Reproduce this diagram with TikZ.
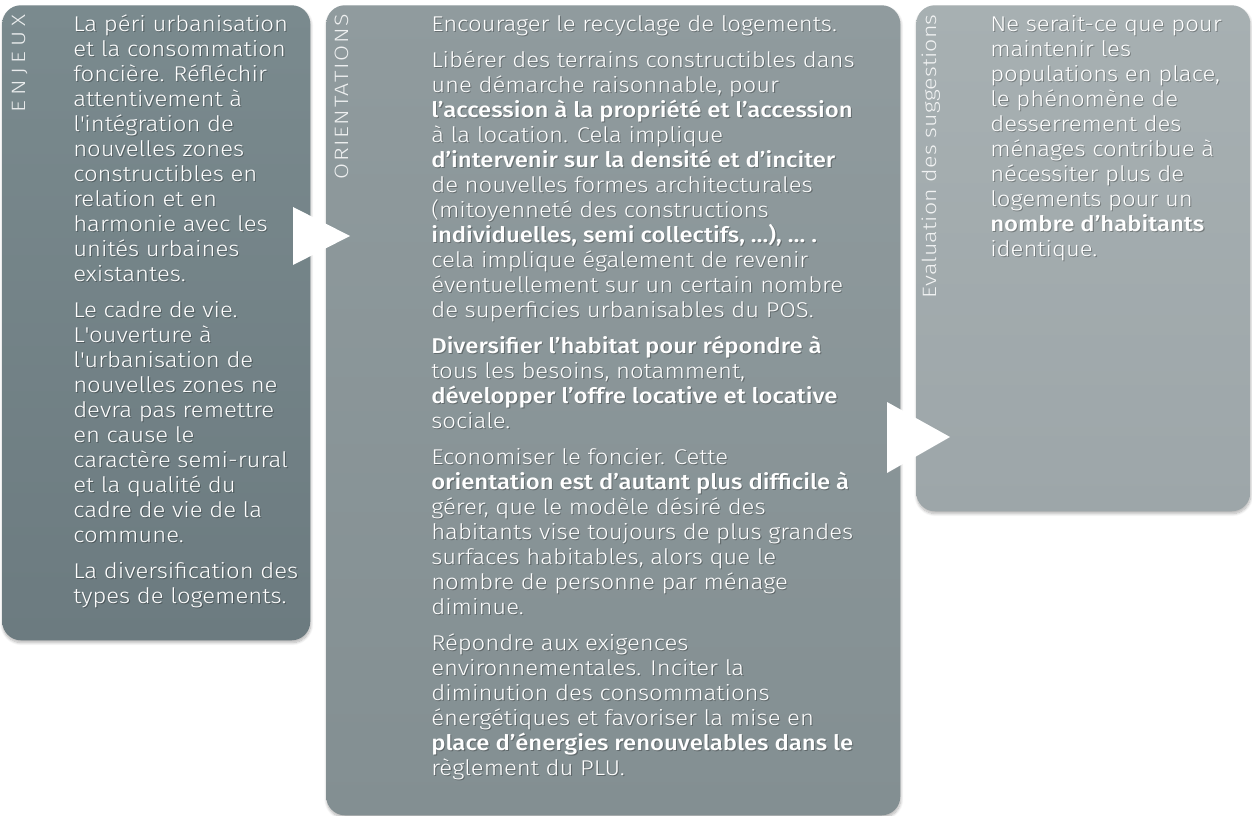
\documentclass[tikz,border=0pt]{standalone}
\usepackage{fontspec}
\setmainfont{Fira Sans Light}[BoldFont={Fira Sans Medium}, FakeStretch=1.12]
\newfontfamily\sidefont{Fira Sans Light}[FakeStretch=1.2]
\usetikzlibrary{shadows.blur}

\definecolor{enjeuxtop}{HTML}{7A8A8E}
\definecolor{enjeuxbot}{HTML}{6C7B80}
\definecolor{orienttop}{HTML}{909B9E}
\definecolor{orientbot}{HTML}{838F92}
\definecolor{evalutop}{HTML}{A7B0B2}
\definecolor{evalubot}{HTML}{9DA6A9}

\newcommand\sq{\textquotesingle}
% white text over a faint dark copy
\newcommand\boxtext[3]{%
  \node[bodytext, text=black, text opacity=0.28, xshift=0.8pt, yshift=-1.1pt] at (#2) {#3};
  \node[bodytext] (#1) at (#2) {#3};
}

\begin{document}
\begin{tikzpicture}
[x=0.75pt, y=-0.75pt,
  cardbox/.style={anchor=north west, inner sep=0pt, rounded corners=14pt,
    blur shadow={shadow xshift=0.4pt, shadow yshift=-1.8pt,
      shadow blur steps=8, shadow opacity=30}},
  sidelabel/.style={rotate=90, anchor=base east, inner sep=0pt,
    text=white, text opacity=0.85, font=\sidefont\fontsize{14.5}{16}\selectfont},
  bodytext/.style={anchor=north west, inner sep=0pt, align=left,
    text=white, font=\fontsize{16}{18.75}\selectfont},
  chevron/.style={fill=white}]
\useasboundingbox (0,0) rectangle (1252,816);
%% panels
\node (enjeux) at (2,5) [cardbox, minimum width=231pt, minimum height=476.25pt,
  top color=enjeuxtop, bottom color=enjeuxbot] {};
\node (orient) at (326,5) [cardbox, minimum width=430.5pt, minimum height=607.5pt,
  top color=orienttop, bottom color=orientbot] {};
\node (evalu) at (916,5) [cardbox, minimum width=250.5pt, minimum height=379.5pt,
  top color=evalutop, bottom color=evalubot] {};
%% side titles
\foreach \panel/\x/\spread/\title in {enjeux/25/26/ENJEUX, orient/348/8/ORIENTATIONS,
  evalu/936/1/Evaluation des suggestions} {
  \node (\panel title) at (\x,14) [sidelabel]
    {\addfontfeature{LetterSpace=\spread}\title};
}
%% chevrons between panels
\foreach \xa/\ya/\yb/\xb/\yc in {293/207/265/350/236, 887/402/473/950/437} {
  \fill[chevron] (\xa,\ya) -- (\xa,\yb) -- (\xb,\yc) -- cycle;
}
%% texts
\boxtext{enjeux text}{73,13.5}{\strut La péri urbanisation\\
  et la consommation\\
  foncière. Réfléchir\\
  attentivement à\\
  l\sq intégration de\\
  nouvelles zones\\
  constructibles en\\
  relation et en\\
  harmonie avec les\\
  unités urbaines\\
  existantes.\\[8.25pt]
  Le cadre de vie.\\
  L\sq ouverture à\\
  l\sq urbanisation de\\
  nouvelles zones ne\\
  devra pas remettre\\
  en cause le\\
  caractère semi-rural\\
  et la qualité du\\
  cadre de vie de la\\
  commune.\\[8.25pt]
  La diversification des\\
  types de logements.}
\boxtext{orient text}{431,13.5}{\strut Encourager le recyclage de logements.\\[8.25pt]
  Libérer des terrains constructibles dans\\
  une démarche raisonnable, pour\\
  \textbf{l’accession à la propriété et l’accession}\\
  à la location. Cela implique\\
  \textbf{d’intervenir sur la densité et d’inciter}\\
  de nouvelles formes architecturales\\
  (mitoyenneté des constructions\\
  \textbf{individuelles, semi collectifs, …), … .}\\
  cela implique également de revenir\\
  éventuellement sur un certain nombre\\
  de superficies urbanisables du POS.\\[8.25pt]
  \textbf{Diversifier l’habitat pour répondre à}\\
  tous les besoins, notamment,\\
  \textbf{développer l’offre locative et locative}\\
  sociale.\\[8.25pt]
  Economiser le foncier. Cette\\
  \textbf{orientation est d’autant plus difficile à}\\
  gérer, que le modèle désiré des\\
  habitants vise toujours de plus grandes\\
  surfaces habitables, alors que le\\
  nombre de personne par ménage\\
  diminue.\\[8.25pt]
  Répondre aux exigences\\
  environnementales. Inciter la\\
  diminution des consommations\\
  énergétiques et favoriser la mise en\\
  \textbf{place d’énergies renouvelables dans le}\\
  règlement du PLU.}
\boxtext{evalu text}{990,13.5}{\strut Ne serait-ce que pour\\
  maintenir les\\
  populations en place,\\
  le phénomène de\\
  desserrement des\\
  ménages contribue à\\
  nécessiter plus de\\
  logements pour un\\
  \textbf{nombre d’habitants}\\
  identique.}
\end{tikzpicture}
\end{document}
